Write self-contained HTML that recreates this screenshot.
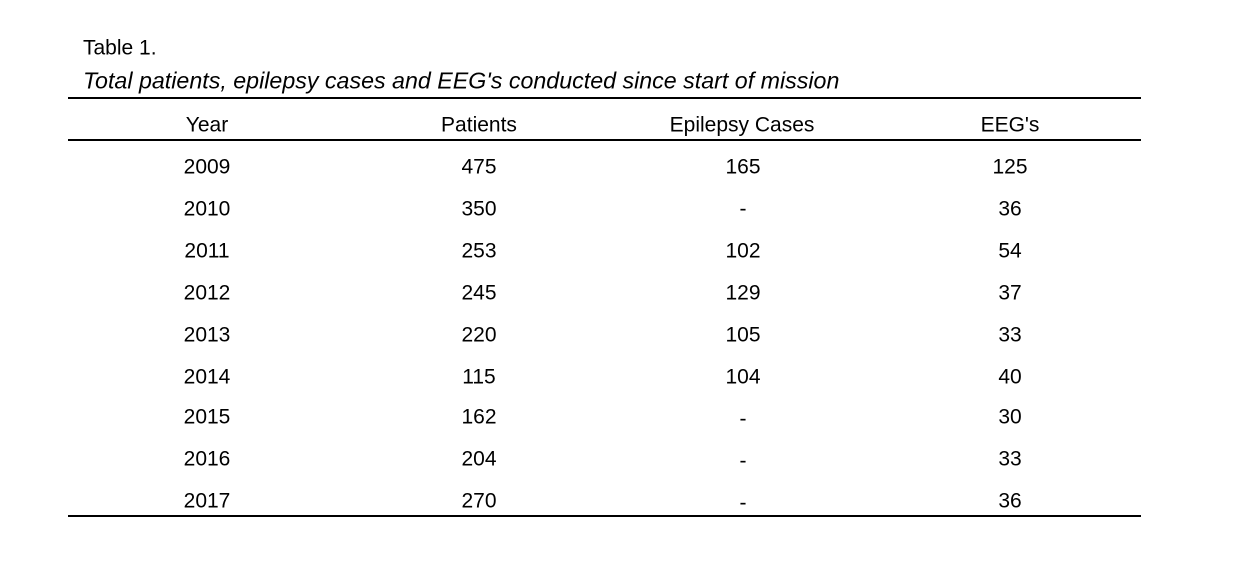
<!DOCTYPE html>
<html><head><meta charset="utf-8"><style>
html,body{margin:0;padding:0;background:#fff;}
body{width:1248px;height:568px;position:relative;overflow:hidden;font-family:"Liberation Sans",sans-serif;color:#000;font-size:21px;}
.t{position:absolute;white-space:nowrap;line-height:1;}
.c{transform:translate(-50%,-50%);}
.l{transform:translateY(-50%);}
.line{position:absolute;left:68px;width:1073px;background:#000;}
</style></head><body>
<div class="t l" style="left:83px;top:48px;">Table 1.</div>
<div class="t l" style="left:83px;top:81px;font-size:23px;font-style:italic;transform:translateY(-50%) scaleX(1.01);transform-origin:left center;">Total patients, epilepsy cases and EEG's conducted since start of mission</div>
<div class="line" style="top:97px;height:2px;"></div>
<div class="line" style="top:139px;height:2px;"></div>
<div class="line" style="top:515px;height:2px;"></div>

<div class="t c" style="left:207px;top:125px;">Year</div>
<div class="t c" style="left:479px;top:125px;">Patients</div>
<div class="t c" style="left:742px;top:125px;">Epilepsy Cases</div>
<div class="t c" style="left:1010px;top:125px;">EEG's</div>

<div class="t c" style="left:207px;top:167px;">2009</div><div class="t c" style="left:479px;top:167px;">475</div><div class="t c" style="left:743px;top:167px;">165</div><div class="t c" style="left:1010px;top:167px;">125</div>
<div class="t c" style="left:207px;top:209px;">2010</div><div class="t c" style="left:479px;top:209px;">350</div><div class="t c" style="left:743px;top:209px;">-</div><div class="t c" style="left:1010px;top:209px;">36</div>
<div class="t c" style="left:207px;top:251px;">2011</div><div class="t c" style="left:479px;top:251px;">253</div><div class="t c" style="left:743px;top:251px;">102</div><div class="t c" style="left:1010px;top:251px;">54</div>
<div class="t c" style="left:207px;top:293px;">2012</div><div class="t c" style="left:479px;top:293px;">245</div><div class="t c" style="left:743px;top:293px;">129</div><div class="t c" style="left:1010px;top:293px;">37</div>
<div class="t c" style="left:207px;top:335px;">2013</div><div class="t c" style="left:479px;top:335px;">220</div><div class="t c" style="left:743px;top:335px;">105</div><div class="t c" style="left:1010px;top:335px;">33</div>
<div class="t c" style="left:207px;top:377px;">2014</div><div class="t c" style="left:479px;top:377px;">115</div><div class="t c" style="left:743px;top:377px;">104</div><div class="t c" style="left:1010px;top:377px;">40</div>
<div class="t c" style="left:207px;top:417px;">2015</div><div class="t c" style="left:479px;top:417px;">162</div><div class="t c" style="left:743px;top:419px;">-</div><div class="t c" style="left:1010px;top:417px;">30</div>
<div class="t c" style="left:207px;top:459px;">2016</div><div class="t c" style="left:479px;top:459px;">204</div><div class="t c" style="left:743px;top:461px;">-</div><div class="t c" style="left:1010px;top:459px;">33</div>
<div class="t c" style="left:207px;top:501px;">2017</div><div class="t c" style="left:479px;top:501px;">270</div><div class="t c" style="left:743px;top:503px;">-</div><div class="t c" style="left:1010px;top:501px;">36</div>
</body></html>
